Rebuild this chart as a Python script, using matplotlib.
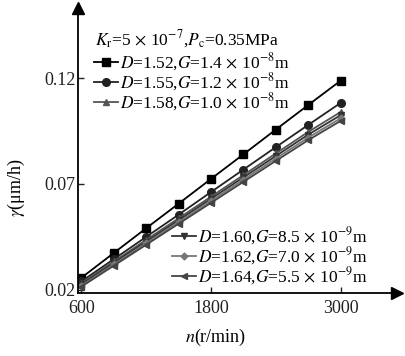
import matplotlib
matplotlib.use("Agg")
import matplotlib.pyplot as plt

plt.rcParams['font.family'] = ['Liberation Serif', 'DejaVu Serif']
plt.rcParams['mathtext.fontset'] = 'stix'

n = [600, 900, 1200, 1500, 1800, 2100, 2400, 2700, 3000]
g152 = [0.0257, 0.0374, 0.0491, 0.0607, 0.0724, 0.0840, 0.0957, 0.1073, 0.1188]
g155 = [0.0240, 0.0345, 0.0450, 0.0555, 0.0662, 0.0768, 0.0874, 0.0979, 0.1083]
g158 = [0.0232, 0.0334, 0.0436, 0.0538, 0.0640, 0.0742, 0.0844, 0.0946, 0.1040]
g160 = [0.0226, 0.0327, 0.0428, 0.0529, 0.0630, 0.0731, 0.0832, 0.0933, 0.1025]
g162 = [0.0220, 0.0320, 0.0420, 0.0520, 0.0620, 0.0720, 0.0820, 0.0919, 0.1010]
g164 = [0.0215, 0.0314, 0.0413, 0.0512, 0.0611, 0.0710, 0.0809, 0.0907, 0.0998]

labels = [r"$D$=1.52,$G$=1.4$\,\times\,$10$^{-8}$m",
          r"$D$=1.55,$G$=1.2$\,\times\,$10$^{-8}$m",
          r"$D$=1.58,$G$=1.0$\,\times\,$10$^{-8}$m",
          r"$D$=1.60,$G$=8.5$\,\times\,$10$^{-9}$m",
          r"$D$=1.62,$G$=7.0$\,\times\,$10$^{-9}$m",
          r"$D$=1.64,$G$=5.5$\,\times\,$10$^{-9}$m"]

fig = plt.figure(figsize=(4.05, 3.56), dpi=100)
ax = fig.add_axes([0.193, 0.177, 0.787, 0.80])

h1, = ax.plot(n, g152, '-s', color='black', ms=5.5, lw=1.3, label=labels[0])
h2, = ax.plot(n, g155, '-o', color='#222222', ms=5.5, lw=1.3, label=labels[1])
h3, = ax.plot(n, g158, '-^', color='#555555', ms=4.5, lw=1.3, label=labels[2])
h4, = ax.plot(n, g160, '-v', color='#333333', ms=4.5, lw=1.3, label=labels[3])
h5, = ax.plot(n, g162, '-D', color='#777777', ms=3.5, lw=1.3, label=labels[4])
h6, = ax.plot(n, g164, '-<', color='#444444', ms=4.5, lw=1.3, label=labels[5])

ax.set_xlim(570, 3520)
ax.set_ylim(0.0185, 0.153)
ax.set_xticks([600, 1800, 3000])
ax.set_yticks([0.02, 0.07, 0.12])
ax.set_yticklabels(['0.02', '0.07', '0.12'])
ax.tick_params(direction='in', length=4, width=1, labelsize=13, colors='#222222')
ax.tick_params(axis='y', pad=2)
ax.tick_params(axis='x', pad=5)
for s in ['top', 'right']:
    ax.spines[s].set_visible(False)
for s in ['left', 'bottom']:
    ax.spines[s].set_linewidth(1.3)
ax.plot(1, 0, '>k', ms=8, transform=ax.transAxes, clip_on=False)
ax.plot(0, 1, '^k', ms=8, transform=ax.transAxes, clip_on=False)

ax.set_xlabel(r"$n$(r/min)", fontsize=13)
ax.xaxis.set_label_coords(0.43, -0.12)
ax.set_ylabel(r"$\gamma$(μm/h)", fontsize=13)
ax.yaxis.set_label_coords(-0.16, 0.37)

ax.text(0.053, 0.872, r"$K_{\rm r}$=5$\,\times\,$10$^{-7}$,$P_{\rm c}$=0.35MPa",
        transform=ax.transAxes, fontsize=12.5)
leg1 = ax.legend(handles=[h1, h2, h3], loc='upper left', bbox_to_anchor=(0.05, 0.85),
                 frameon=False, fontsize=12.5, handlelength=1.4, handletextpad=0.1,
                 labelspacing=-0.1, borderaxespad=0, borderpad=0)
ax.add_artist(leg1)
ax.legend(handles=[h4, h5, h6], loc='lower left', bbox_to_anchor=(0.295, 0.022),
          frameon=False, fontsize=12.5, handlelength=1.4, handletextpad=0.1,
          labelspacing=-0.1, borderaxespad=0, borderpad=0)

fig.savefig("out.png", dpi=100)
